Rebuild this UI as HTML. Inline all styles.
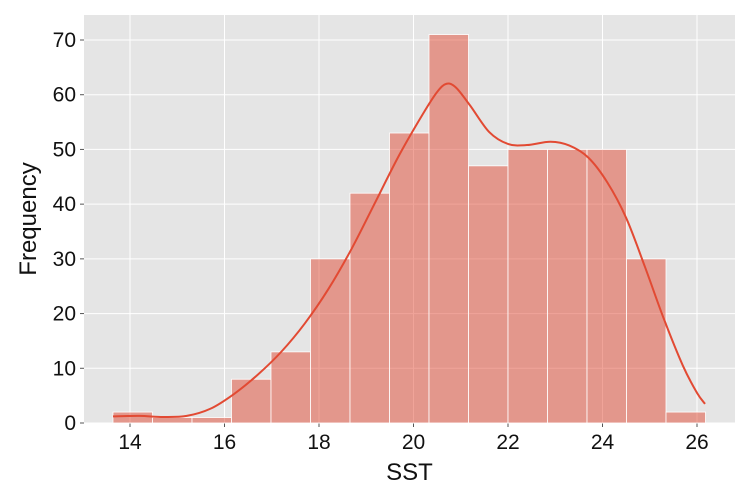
<!DOCTYPE html>
<html><head><meta charset="utf-8"><style>
body{margin:0;background:#fff;}
svg{display:block;font-family:"Liberation Sans",sans-serif;}
</style></head><body>
<svg id="chart" width="750" height="500"></svg>
<script>
const binStart = 13.64;
const binWidth = 0.836;
const counts = [2,1,1,8,13,30,42,53,71,47,50,50,50,30,2];
const kdeX = [13.64,14.2,14.7,15.2,15.7,16.2,16.7,17.2,17.7,18.2,18.7,19.2,19.7,20.2,20.5,20.7,20.9,21.2,21.6,22,22.4,22.9,23.3,23.7,24.1,24.5,24.9,25.3,25.7,26,26.17];
const kdeY = [1.2,1.3,1.1,1.3,2.6,5.3,8.8,13,18.2,24.5,32,40.5,49,56.5,60.5,62,61.3,58,53.2,51,50.8,51.4,50.7,48.5,44,37.5,28.5,19,10.5,5.5,3.5];
const xTicks = [14,16,18,20,22,24,26];
const yTicks = [0,10,20,30,40,50,60,70];

const NS="http://www.w3.org/2000/svg";
const svg=document.getElementById('chart');
const L=84,R=735,T=15,B=423;
const xs=v=>130+(v-14)*47.25;
const ys=v=>423-v*5.4714;
function mk(t,a){const e=document.createElementNS(NS,t);for(const k in a)e.setAttribute(k,a[k]);svg.appendChild(e);return e;}
const bg=mk('rect',{x:L,y:T,width:R-L,height:B-T,fill:'#e5e5e5'});


xTicks.forEach(t=>{
  const g=mk('line',{x1:xs(t),x2:xs(t),y1:T,y2:B,stroke:'#fff','stroke-width':1});
  
  
  mk('line',{x1:xs(t),x2:xs(t),y1:B,y2:B+4,stroke:'#555'});
  const tx=mk('text',{x:xs(t),y:B+26,'text-anchor':'middle','font-size':21,fill:'#111'});
  tx.textContent=t;
  
  
});
yTicks.forEach(t=>{
  const g=mk('line',{x1:L,x2:R,y1:ys(t),y2:ys(t),stroke:'#fff','stroke-width':1});
  
  
  mk('line',{x1:L-4,x2:L,y1:ys(t),y2:ys(t),stroke:'#555'});
  const tx=mk('text',{x:L-8,y:ys(t)+7,'text-anchor':'end','font-size':21,fill:'#111'});
  tx.textContent=t;
  
  
});
counts.forEach((c,i)=>{
  const x0=xs(binStart+i*binWidth),x1=xs(binStart+(i+1)*binWidth);
  const r=mk('rect',{x:x0,y:ys(c),width:x1-x0,height:ys(0)-ys(c),fill:'rgba(226,74,51,0.5)',stroke:'#fff','stroke-width':0.8});
  
  
});
const P=kdeX.map((x,i)=>[xs(x),ys(kdeY[i])]);
let d='M'+P[0][0]+','+P[0][1];
for(let i=0;i<P.length-1;i++){
  const p0=P[i-1]||P[i],p1=P[i],p2=P[i+1],p3=P[i+2]||P[i+1];
  d+=' C'+(p1[0]+(p2[0]-p0[0])/6)+','+(p1[1]+(p2[1]-p0[1])/6)+' '+(p2[0]-(p3[0]-p1[0])/6)+','+(p2[1]-(p3[1]-p1[1])/6)+' '+p2[0]+','+p2[1];
}
const p=mk('path',{d:d,fill:'none',stroke:'#e24a33','stroke-width':2,'stroke-linejoin':'round'});


const xl=mk('text',{x:(L+R)/2,y:480,'text-anchor':'middle','font-size':24,fill:'#111'});
xl.textContent='SST';


const yl=mk('text',{x:36,y:(T+B)/2,'text-anchor':'middle','font-size':24,fill:'#111',transform:'rotate(-90 36 '+((T+B)/2)+')'});
yl.textContent='Frequency';


</script>
</body></html>
